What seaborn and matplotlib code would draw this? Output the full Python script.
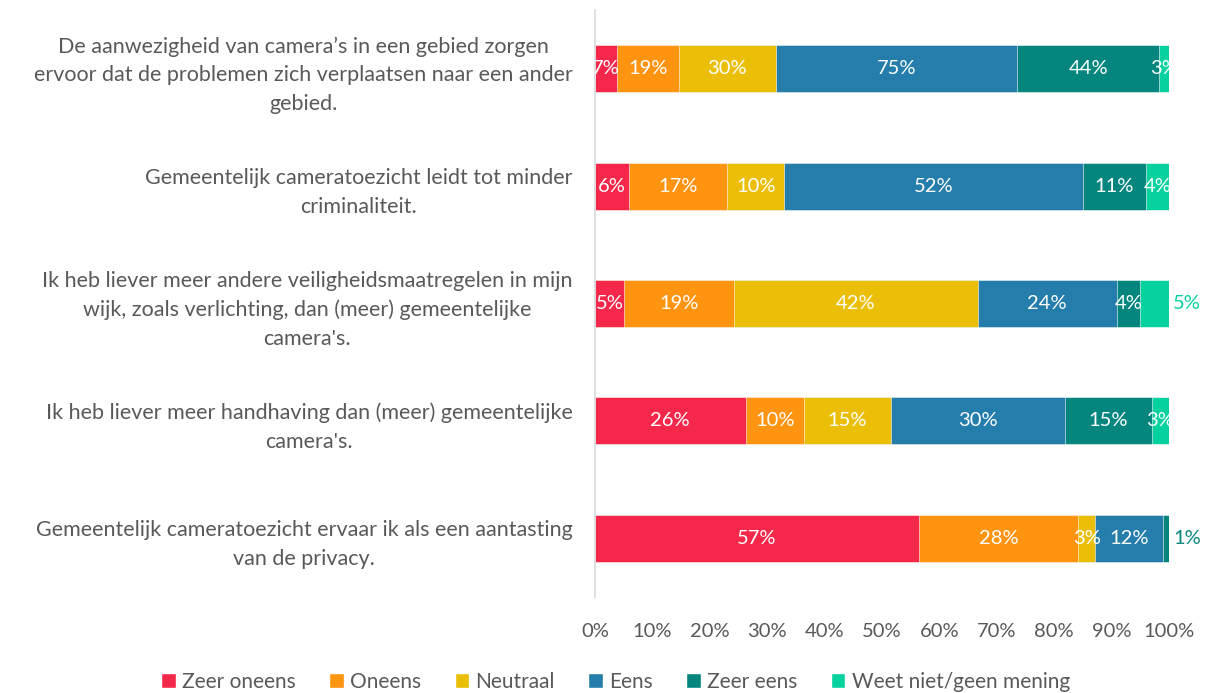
import numpy as np
import pandas as pd
import matplotlib.pyplot as plt
import seaborn as sns
from matplotlib.patches import Patch
from matplotlib.ticker import PercentFormatter

# Statements and answer counts (labels shown as %)
questions = [
    "De aanwezigheid van camera’s in een gebied zorgen\nervoor dat de problemen zich verplaatsen naar een ander\ngebied.",
    "Gemeentelijk cameratoezicht leidt tot minder\ncriminaliteit.",
    "Ik heb liever meer andere veiligheidsmaatregelen in mijn\nwijk, zoals verlichting, dan (meer) gemeentelijke\ncamera's.",
    "Ik heb liever meer handhaving dan (meer) gemeentelijke\ncamera's.",
    "Gemeentelijk cameratoezicht ervaar ik als een aantasting\nvan de privacy.",
]
answers = ["Zeer oneens", "Oneens", "Neutraal", "Eens", "Zeer eens", "Weet niet/geen mening"]
zeer_oneens = [7, 6, 5, 26, 57]
oneens = [19, 17, 19, 10, 28]
neutraal = [30, 10, 42, 15, 3]
eens = [75, 52, 24, 30, 12]
zeer_eens = [44, 11, 4, 15, 1]
weet_niet = [3, 4, 5, 3, 0]

colors = ["#F5284B", "#FF9410", "#EBBF08", "#247DAA", "#04867E", "#05D29F"]
text_gray = "#595959"

df = pd.DataFrame({
    "vraag": questions,
    "Zeer oneens": zeer_oneens,
    "Oneens": oneens,
    "Neutraal": neutraal,
    "Eens": eens,
    "Zeer eens": zeer_eens,
    "Weet niet/geen mening": weet_niet,
})
vals = df[answers].to_numpy(dtype=float)
share = vals / vals.sum(axis=1, keepdims=True) * 100
cum = np.cumsum(share, axis=1)

sns.set_style("white")
plt.rcParams["font.family"] = ["Lato", "DejaVu Sans"]

fig = plt.figure(figsize=(12.19, 6.93), dpi=100)
ax = fig.add_axes([0.488, 0.1385, 0.471, 0.847])

# draw cumulative bars from the longest to the shortest, so they stack
for k in range(len(answers) - 1, -1, -1):
    plot_df = pd.DataFrame({"vraag": questions, "x": cum[:, k]})
    sns.barplot(data=plot_df, x="x", y="vraag", orient="h", color=colors[k],
                width=0.4, saturation=1, edgecolor="white", linewidth=0.4, ax=ax)

# data labels
for i in range(len(questions)):
    for k in range(len(answers)):
        v = vals[i, k]
        if v == 0:
            continue
        outside = (i == 2 and k == 5) or (i == 4 and k == 4)
        if outside:
            ax.text(100.7, i, f"{int(v)}%", ha="left", va="center",
                    color=colors[k], fontsize=14.5)
        else:
            mid = cum[i, k] - share[i, k] / 2
            ax.text(mid, i, f"{int(v)}%", ha="center", va="center",
                    color="white", fontsize=14.5)

ax.set_xlim(0, 100)
ax.set_ylim(4.5, -0.5)
ax.xaxis.set_major_formatter(PercentFormatter(decimals=0))
ax.set_xticks(range(0, 101, 10))
ax.set_xlabel("")
ax.set_ylabel("")
ax.tick_params(axis="x", length=0, pad=19, labelsize=14.5, labelcolor=text_gray)
ax.tick_params(axis="y", length=0, pad=16, labelsize=15.5, labelcolor=text_gray)
for t in ax.get_yticklabels():
    t.set_multialignment("center")
    t.set_linespacing(1.55)

for s in ["top", "right", "bottom"]:
    ax.spines[s].set_visible(False)
ax.spines["left"].set_color("#D9D9D9")
ax.spines["left"].set_linewidth(1.2)

handles = [Patch(facecolor=c, label=a) for c, a in zip(colors, answers)]
fig.legend(handles=handles, loc="lower center", bbox_to_anchor=(0.505, -0.025),
           ncol=6, frameon=False, fontsize=15, labelcolor=text_gray,
           handlelength=0.7, handleheight=0.7, handletextpad=0.3, columnspacing=1.6)

fig.savefig("out.png", dpi=100)
